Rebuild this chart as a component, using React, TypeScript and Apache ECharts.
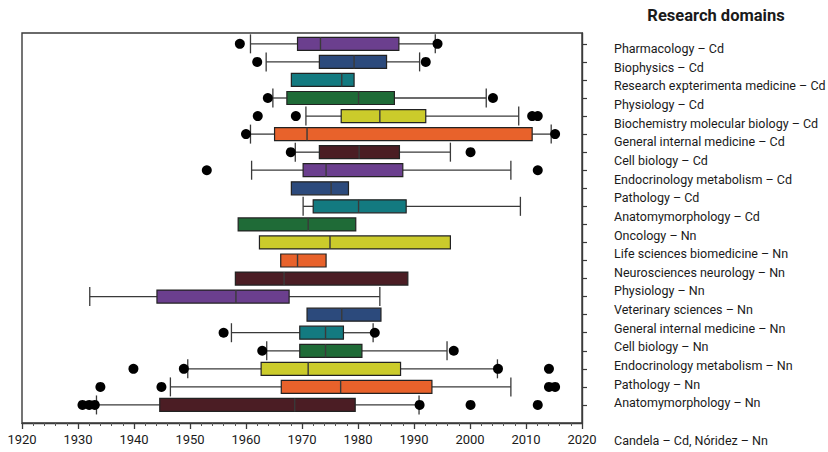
import React, { useEffect, useRef } from "react";
import * as echarts from "echarts";

// Right-hand list of research domains (20 labels)
const domainLabels = [
  "Pharmacology – Cd",
  "Biophysics – Cd",
  "Research expterimenta medicine – Cd",
  "Physiology – Cd",
  "Biochemistry molecular biology – Cd",
  "General internal medicine – Cd",
  "Cell biology – Cd",
  "Endocrinology metabolism – Cd",
  "Pathology – Cd",
  "Anatomymorphology – Cd",
  "Oncology – Nn",
  "Life sciences biomedicine – Nn",
  "Neurosciences neurology – Nn",
  "Physiology – Nn",
  "Veterinary sciences – Nn",
  "General internal medicine – Nn",
  "Cell biology – Nn",
  "Endocrinology metabolism – Nn",
  "Pathology – Nn",
  "Anatomymorphology – Nn",
];
const titleText = "Research domains";
const footnoteText = "Candela – Cd, Nóridez – Nn";

// Box plot rows (21 boxes, top to bottom)
const whiskerLow: (number | null)[] = [
  1960.8, 1963.6, null, 1964.8, 1970.7, 1960.8, 1968.8, 1961.0, null, 1970.2,
  null, null, null, null, 1932.1, null, 1957.4, 1963.7, 1949.6, 1946.5, 1933.3,
];
const quartile1 = [
  1969.2, 1973.1, 1968.1, 1967.3, 1977.0, 1965.1, 1973.1, 1970.2, 1968.1, 1972.0,
  1958.6, 1962.4, 1966.2, 1958.1, 1944.1, 1970.9, 1969.6, 1969.6, 1962.7, 1966.3, 1944.6,
];
const medians = [
  1973.3, 1979.3, 1977.1, 1980.1, 1983.9, 1970.9, 1980.2, 1974.3, 1975.2, 1980.1,
  1971.1, 1975.0, 1969.2, 1966.8, 1958.2, 1977.1, 1974.2, 1974.2, 1971.1, 1976.9, 1968.7,
];
const quartile3 = [
  1987.3, 1985.1, 1979.3, 1986.5, 1992.1, 2011.1, 1987.4, 1988.0, 1978.3, 1988.6,
  1979.6, 1996.5, 1974.3, 1988.9, 1967.7, 1984.1, 1977.4, 1980.7, 1987.6, 1993.2, 1979.5,
];
const whiskerHigh: (number | null)[] = [
  1993.8, 1991.0, null, 2002.9, 2008.7, 2014.5, 1996.5, 2007.3, null, 2009.0,
  null, null, null, null, 1983.9, null, 1982.7, 1995.9, 2004.9, 2007.3, 1990.9,
];
// Outliers: [row, year]
const outliers: [number, number][] = [
  [0, 1958.9], [0, 1994.2],
  [1, 1962.0], [1, 1992.1],
  [3, 1963.9], [3, 2004.1],
  [4, 1962.1], [4, 1968.9], [4, 2011.1], [4, 2012.1],
  [5, 1960.0], [5, 2015.2],
  [6, 1968.0], [6, 2000.1],
  [7, 1953.0], [7, 2012.1],
  [16, 1956.0], [16, 1983.0],
  [17, 1962.9], [17, 1997.1],
  [18, 1939.9], [18, 1948.9], [18, 2005.0], [18, 2014.1],
  [19, 1934.0], [19, 1944.9], [19, 2014.1], [19, 2015.2],
  [20, 1930.8], [20, 1932.0], [20, 1933.0], [20, 1991.0], [20, 2000.1], [20, 2012.1],
];
const rowTicks = quartile1.map((_, i) => i);

const palette = ["#6b3f8e", "#2c4a7c", "#137a80", "#1f6b37", "#cbcb2b", "#e8622b", "#4b1d24"];
const lineColor = "#3a3a3a";

export default function App() {
  const ref = useRef<HTMLDivElement>(null);
  useEffect(() => {
    if (!ref.current) return;
    const chart = echarts.init(ref.current, null, { renderer: "svg" });
    const boxHalf = 6.5;
    const capHalf = 9.5;
    const mkLine = (x1: number, y1: number, x2: number, y2: number, w: number) => ({
      type: "line",
      shape: { x1, y1, x2, y2 },
      style: { stroke: lineColor, lineWidth: w },
    });
    const textStyle = (text: string, font: string, align: string) => ({
      text,
      font,
      fill: "#1a1a1a",
      align,
      verticalAlign: "middle",
      textAlign: align,
      textVerticalAlign: "middle",
    });
    const graphics: any[] = [
      { type: "text", x: 716, y: 15, style: textStyle(titleText, "bold 16.5px Roboto", "center") },
      { type: "text", x: 614, y: 440, style: textStyle(footnoteText, "12.5px Roboto", "left") },
    ];
    domainLabels.forEach((t, i) => {
      graphics.push({
        type: "text",
        x: 614,
        y: 48.7 + i * 18.63,
        style: textStyle(t, "12.5px Roboto", "left"),
      });
    });

    chart.setOption({
      animation: false,
      backgroundColor: "#ffffff",
      grid: {
        left: 22,
        right: 246,
        top: 33,
        bottom: 29,
        show: true,
        borderColor: lineColor,
        borderWidth: 1.4,
        backgroundColor: "transparent",
      },
      xAxis: {
        type: "value",
        min: 1920,
        max: 2020,
        interval: 10,
        axisLine: { show: true, onZero: false, lineStyle: { color: lineColor, width: 1.4 } },
        axisTick: { show: true, length: 6, inside: false, lineStyle: { color: lineColor, width: 1.3 } },
        minorTick: { show: true, splitNumber: 5, length: 3, lineStyle: { color: "#555", width: 1 } },
        axisLabel: {
          color: "#1a1a1a",
          fontSize: 13,
          fontFamily: "Roboto",
          margin: 10,
          formatter: (v: number) => String(v),
        },
        splitLine: { show: false },
        minorSplitLine: { show: false },
      },
      yAxis: [
        {
          type: "value",
          min: -0.6,
          max: 21,
          inverse: true,
          show: false,
          splitLine: { show: false },
        },
        {
          type: "value",
          min: -0.6,
          max: 21,
          inverse: true,
          position: "right",
          axisLine: { show: true, onZero: false, lineStyle: { color: lineColor, width: 1.4 } },
          axisTick: {
            show: true,
            inside: false,
            length: 5,
            customValues: rowTicks,
            lineStyle: { color: lineColor, width: 1.2 },
          },
          axisLabel: { show: false },
          splitLine: { show: false },
        },
      ],
      graphic: graphics,
      series: [
        {
          type: "custom",
          xAxisIndex: 0,
          yAxisIndex: 0,
          data: quartile1.map((v, i) => [i, v, quartile3[i]]),
          encode: { x: [1, 2], y: 0 },
          renderItem: (params: any, api: any) => {
            const i = params.dataIndex;
            const pQ1 = api.coord([quartile1[i], i]);
            const pQ3 = api.coord([quartile3[i], i]);
            const pMed = api.coord([medians[i], i]);
            const y = pQ1[1];
            const children: any[] = [];
            const lo = whiskerLow[i];
            const hi = whiskerHigh[i];
            if (lo != null) {
              const pLo = api.coord([lo, i]);
              children.push(mkLine(pLo[0], y, pQ1[0], y, 1.3));
              children.push(mkLine(pLo[0], y - capHalf, pLo[0], y + capHalf, 1.3));
            }
            if (hi != null) {
              const pHi = api.coord([hi, i]);
              children.push(mkLine(pQ3[0], y, pHi[0], y, 1.3));
              children.push(mkLine(pHi[0], y - capHalf, pHi[0], y + capHalf, 1.3));
            }
            children.push({
              type: "rect",
              shape: { x: pQ1[0], y: y - boxHalf, width: pQ3[0] - pQ1[0], height: boxHalf * 2 },
              style: { fill: palette[i % palette.length], stroke: "#222", lineWidth: 1.2 },
            });
            children.push(mkLine(pMed[0], y - boxHalf, pMed[0], y + boxHalf, 1.4));
            return { type: "group", children };
          },
          z: 2,
        },
        {
          type: "scatter",
          xAxisIndex: 0,
          yAxisIndex: 0,
          data: outliers.map(([r, yr]) => [yr, r]),
          symbol: "circle",
          symbolSize: 10,
          itemStyle: { color: "#000000", opacity: 1 },
          z: 3,
        },
      ],
    });
    return () => chart.dispose();
  }, []);
  return (
    <div
      ref={ref}
      style={{ position: "fixed", left: 0, top: 0, width: 828, height: 452, background: "#fff" }}
    />
  );
}
